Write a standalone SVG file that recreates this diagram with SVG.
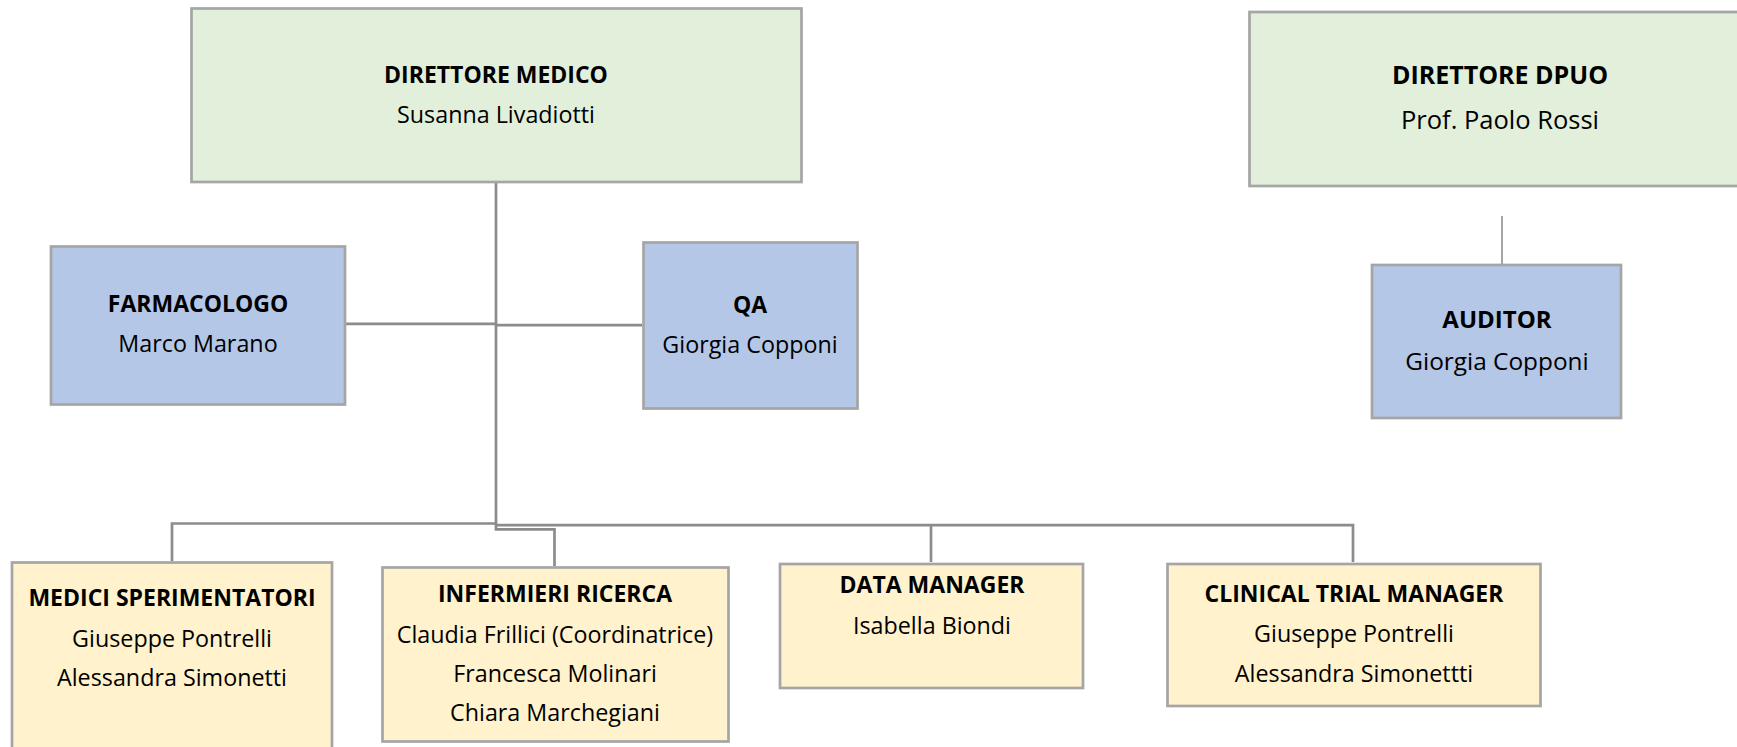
<svg xmlns="http://www.w3.org/2000/svg" width="1737" height="747" viewBox="0 0 1737 747">
<style>
.box{stroke:#a5a5a5;stroke-width:2.7}
.g{fill:#e2efda}
.b{fill:#b4c7e7}
.y{fill:#fff2cc}
text{font-family:"Open Sans","DejaVu Sans",sans-serif;font-size:23.3px;fill:#000;text-anchor:middle}
.t{font-weight:bold;font-size:23px}
text.big{font-size:25.5px}
text.t.big{font-size:25px}
text.mid{font-size:24.4px}
text.t.mid{font-size:24px}
.conn{fill:none;stroke:#8c8c8c;stroke-width:2.7}
.thin{fill:none;stroke:#7f7f7f;stroke-width:1.4}
</style>
<rect width="1737" height="747" fill="#fff"/>
<g id="connectors">
<path class="conn" d="M496 182 V525"/>
<path class="conn" d="M496 323.8 H345"/>
<path class="conn" d="M496 325.2 H642"/>
<path class="conn" d="M496 523.5 H172 V561"/>
<path class="conn" d="M496 524 V529.3 H554.5 V566"/>
<path class="conn" d="M496 525.2 H1353 V562"/>
<path class="conn" d="M931 525 V562"/>
<path class="thin" d="M1502 216 V292"/>
</g>
<g id="direttore-medico">
<rect class="box g" x="191.5" y="8.5" width="610" height="173.5"/>
<text class="t" x="496" y="83">DIRETTORE MEDICO</text>
<text x="496" y="123">Susanna Livadiotti</text>
</g>
<g id="direttore-dpuo">
<rect class="box g" x="1249.5" y="12" width="500" height="174"/>
<text class="t big" x="1500" y="84">DIRETTORE DPUO</text>
<text class="big" x="1500" y="129">Prof. Paolo Rossi</text>
</g>
<g id="farmacologo">
<rect class="box b" x="51" y="246.5" width="294" height="158"/>
<text class="t" x="198" y="312">FARMACOLOGO</text>
<text x="198" y="352">Marco Marano</text>
</g>
<g id="qa">
<rect class="box b" x="643.5" y="242.5" width="214" height="166"/>
<text class="t" x="750" y="313">QA</text>
<text x="750" y="353">Giorgia Copponi</text>
</g>
<g id="auditor">
<rect class="box b" x="1372" y="265" width="249" height="153"/>
<text class="t mid" x="1497" y="328">AUDITOR</text>
<text class="mid" x="1497" y="370">Giorgia Copponi</text>
</g>
<g id="medici-sperimentatori">
<rect class="box y" x="12" y="562.5" width="320" height="200"/>
<text class="t" x="172" y="606">MEDICI SPERIMENTATORI</text>
<text x="172" y="647">Giuseppe Pontrelli</text>
<text x="172" y="686">Alessandra Simonetti</text>
</g>
<g id="infermieri-ricerca">
<rect class="box y" x="382.5" y="567.5" width="346" height="174"/>
<text class="t" x="555" y="602">INFERMIERI RICERCA</text>
<text x="555" y="643">Claudia Frillici (Coordinatrice)</text>
<text x="555" y="682">Francesca Molinari</text>
<text x="555" y="721">Chiara Marchegiani</text>
</g>
<g id="data-manager">
<rect class="box y" x="780" y="564" width="303" height="124"/>
<text class="t" x="932" y="593">DATA MANAGER</text>
<text x="932" y="634">Isabella Biondi</text>
</g>
<g id="clinical-trial-manager">
<rect class="box y" x="1167.5" y="564" width="373" height="142"/>
<text class="t" x="1354" y="602">CLINICAL TRIAL MANAGER</text>
<text x="1354" y="642">Giuseppe Pontrelli</text>
<text x="1354" y="682">Alessandra Simonettti</text>
</g>
</svg>
